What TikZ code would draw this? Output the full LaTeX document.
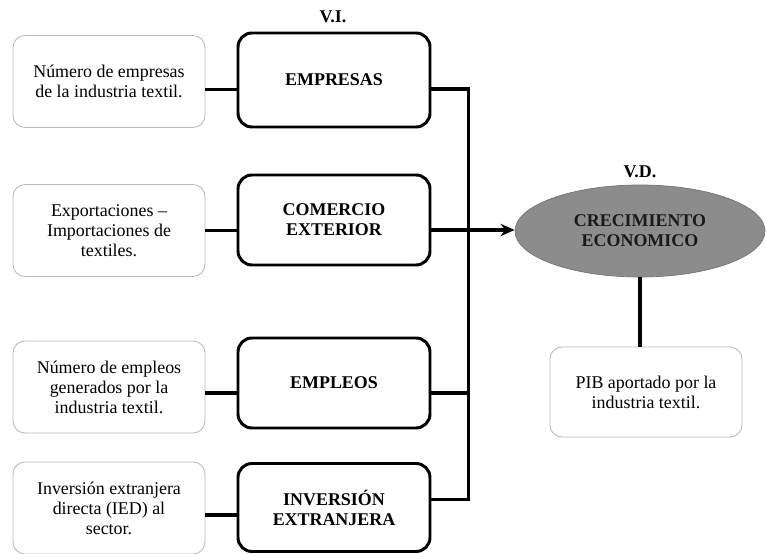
\documentclass[tikz,border=0pt]{standalone}
\usepackage{fontspec}
\setmainfont{Liberation Serif}
\usetikzlibrary{shapes.geometric,arrows.meta}

\begin{document}
\begin{tikzpicture}[>={Stealth[length=8pt,width=7pt]},
  indbox/.style={draw=gray!55,line width=0.5pt,rounded corners=0.24cm,minimum width=3.84cm,minimum height=1.84cm,align=center,font=\fontsize{10.2}{11.4}\selectfont},
  varbox/.style={draw,line width=1.7pt,rounded corners=0.28cm,minimum width=3.84cm,minimum height=1.8cm,align=center,font=\fontsize{10.2}{11.4}\selectfont\bfseries},
  link/.style={line width=1.8pt}]
\useasboundingbox (0,0) rectangle (15.32,11.08);
% indicators (left column)
\node[indbox] (ind1) at (2.18,9.45) {Número de empresas\\de la industria textil.};
\node[indbox] (ind2) at (2.18,6.47) {Exportaciones --\\Importaciones de\\textiles.};
\node[indbox] (ind3) at (2.18,3.34) {Número de empleos\\generados por la\\industria textil.};
\node[indbox] (ind4) at (2.18,0.92) {Inversión extranjera\\directa (IED) al\\sector.};
% independent variables
\node[varbox,minimum height=1.88cm] (var1) at (6.68,9.48) {EMPRESAS};
\node[varbox] (var2) at (6.68,6.68) {COMERCIO\\EXTERIOR};
\node[varbox] (var3) at (6.68,3.42) {EMPLEOS};
\node[varbox,minimum height=1.76cm] (var4) at (6.68,0.93) {INVERSIÓN\\EXTRANJERA};
\node[font=\fontsize{10.2}{11.4}\selectfont\bfseries] (vi) at (6.66,10.74) {V.I.};
% dependent variable
\node[ellipse,draw=black!55,fill=black!45,minimum width=5.0cm,minimum height=1.84cm,align=center,
  font=\fontsize{10.2}{11.4}\selectfont\bfseries,text=black!90] (crec) at (12.8,6.46) {CRECIMIENTO\\ECONOMICO};
\node[font=\fontsize{10.2}{11.4}\selectfont\bfseries] (vd) at (12.8,7.64) {V.D.};
\node[indbox,minimum height=1.8cm] (pib) at (12.92,3.24) {PIB aportado por la\\industria textil.};
% links indicator -- variable
\draw[link] ([yshift=-0.16cm]ind1.east) -- ([yshift=-0.16cm]ind1.east -| var1.west);
\draw[link] (ind2.east) -- (ind2.east -| var2.west);
\draw[link] ([yshift=-0.12cm]ind3.east) -- ([yshift=-0.12cm]ind3.east -| var3.west);
\draw[link] ([yshift=-0.14cm]ind4.east) -- ([yshift=-0.14cm]ind4.east -| var4.west);
% bus into the ellipse
\coordinate (bustop) at ([yshift=-0.18cm]var1.east);
\coordinate (busbot) at ([yshift=0.16cm]var4.east);
\coordinate (arrfrom) at ([yshift=-0.2cm]var2.east);
\draw[link] (bustop) -- ++(0.74,0) |- (busbot);
\draw[link] ([yshift=-0.2cm]var3.east) -- ++(0.74,0);
\draw[link,->] (arrfrom) -- (arrfrom -| crec.west);
\draw[link] (crec.south) -- (crec.south |- pib.north);
\end{tikzpicture}
\end{document}
